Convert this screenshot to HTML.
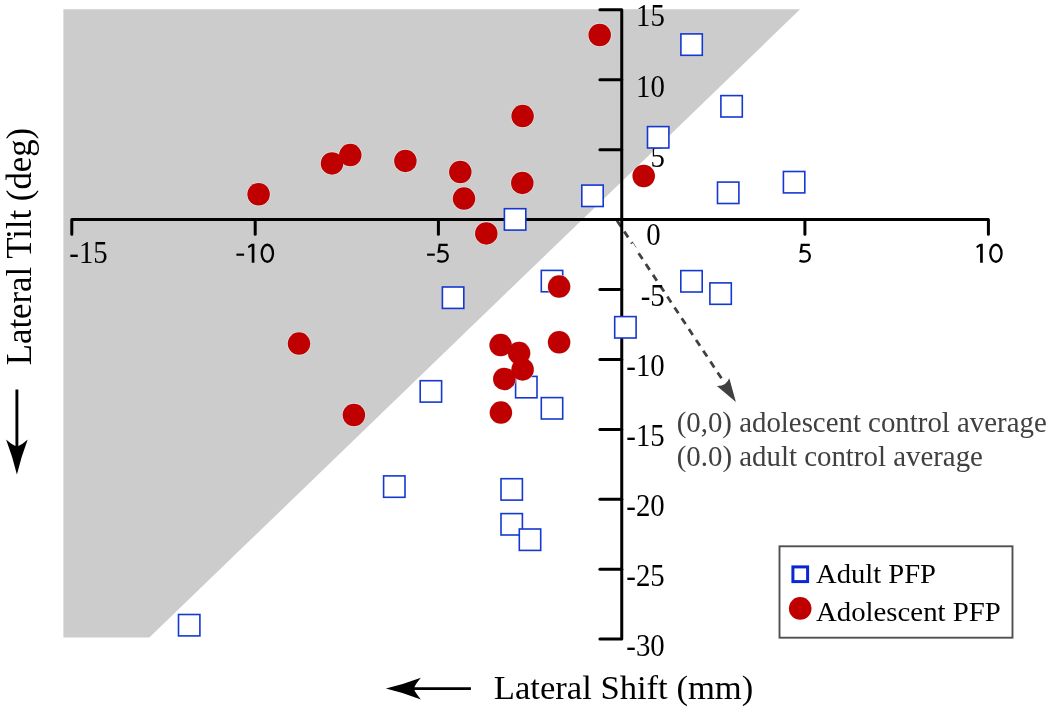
<!DOCTYPE html>
<html><head><meta charset="utf-8"><title>Lateral Tilt vs Lateral Shift</title>
<style>
html,body{margin:0;padding:0;background:#fff;}
body{width:1050px;height:711px;overflow:hidden;font-family:"Liberation Serif",serif;}
svg{display:block;will-change:transform;}
.ser{font-family:"Liberation Serif",serif;}
.san{font-family:"Liberation Sans",sans-serif;}
</style></head><body>
<svg width="1050" height="711" viewBox="0 0 1050 711">
<rect width="1050" height="711" fill="#ffffff"/>
<polygon points="63.4,9.3 800.1,9.3 149.3,637.6 63.4,637.6" fill="#cccccc"/>

<path d="M617.1,220.7 L721.7,378.6" stroke="#404040" stroke-width="2.8" stroke-dasharray="7 6" fill="none"/>
<path d="M631.6,243.9 L635.6,249.9" stroke="#ffffff" stroke-width="3.2" fill="none"/>
<g stroke="#000" stroke-width="3.0" fill="none" stroke-linecap="round" stroke-linejoin="round">
<path d="M71.8,234.2 V219.5 H988.4 V234.2"/>
<path d="M255.2,219.5 V234.2"/>
<path d="M438.4,219.5 V234.2"/>
<path d="M804.9,219.5 V234.2"/>
<path d="M599.9,9.8 H621.75 V639.1 H599.9"/>
<path d="M599.9,79.73 H621.75"/>
<path d="M599.9,149.66 H621.75"/>
<path d="M599.9,289.5 H621.75"/>
<path d="M599.9,359.5 H621.75"/>
<path d="M599.9,429.4 H621.75"/>
<path d="M599.9,499.3 H621.75"/>
<path d="M599.9,569.2 H621.75"/>
</g>
<g fill="#000">
<text class="ser" transform="translate(69.3,262.6) scale(1.03,1.095)" font-size="28px">-15</text>
<text class="ser" transform="translate(646.3,245.0) scale(1.03,1.095)" font-size="28px">0</text>
<text class="ser" transform="translate(664.8,25.9) scale(1.03,1.095)" font-size="28px" text-anchor="end">15</text>
<text class="ser" transform="translate(664.8,96.6) scale(1.03,1.095)" font-size="28px" text-anchor="end">10</text>
<text class="ser" transform="translate(664.8,166.6) scale(1.03,1.095)" font-size="28px" text-anchor="end">5</text>
<text class="ser" transform="translate(664.8,305.9) scale(1.03,1.095)" font-size="28px" text-anchor="end">-5</text>
<text class="ser" transform="translate(664.8,375.7) scale(1.03,1.095)" font-size="28px" text-anchor="end">-10</text>
<text class="ser" transform="translate(664.8,445.6) scale(1.03,1.095)" font-size="28px" text-anchor="end">-15</text>
<text class="ser" transform="translate(664.8,515.6) scale(1.03,1.095)" font-size="28px" text-anchor="end">-20</text>
<text class="ser" transform="translate(664.8,586.3) scale(1.03,1.095)" font-size="28px" text-anchor="end">-25</text>
<text class="ser" transform="translate(664.8,655.6) scale(1.03,1.095)" font-size="28px" text-anchor="end">-30</text>
</g>
<g transform="translate(236.4,243.7)"><g transform="translate(0,0)"><rect x="0" y="9.9" width="7.7" height="2.15" fill="#000"/></g><g transform="translate(11.3,0)"><path d="M3.9,0 H6.7 V19.1 H4.0 V2.6 L0.9,4.5 L0.2,2.5 Z" fill="#000"/></g><g transform="translate(24.2,0)"><ellipse cx="6.75" cy="9.55" rx="5.6" ry="8.5" fill="none" stroke="#000" stroke-width="2.3"/></g></g>
<g transform="translate(427.1,243.7)"><g transform="translate(0,0)"><rect x="0" y="9.9" width="7.7" height="2.15" fill="#000"/></g><g transform="translate(9.6,0)"><path d="M11.0,1.15 H3.0 L2.1,8.0 C3.3,7.6 4.4,7.45 5.5,7.45 C8.9,7.45 11.0,9.6 11.0,12.6 C11.0,15.9 8.6,17.95 5.3,17.95 C3.4,17.95 1.8,17.5 0.7,16.8" fill="none" stroke="#000" stroke-width="2.3" stroke-linejoin="miter"/></g></g>
<g transform="translate(798.8,243.7)"><g transform="translate(0,0)"><path d="M11.0,1.15 H3.0 L2.1,8.0 C3.3,7.6 4.4,7.45 5.5,7.45 C8.9,7.45 11.0,9.6 11.0,12.6 C11.0,15.9 8.6,17.95 5.3,17.95 C3.4,17.95 1.8,17.5 0.7,16.8" fill="none" stroke="#000" stroke-width="2.3" stroke-linejoin="miter"/></g></g>
<g transform="translate(976.1,243.7)"><g transform="translate(0,0)"><path d="M3.9,0 H6.7 V19.1 H4.0 V2.6 L0.9,4.5 L0.2,2.5 Z" fill="#000"/></g><g transform="translate(13.1,0)"><ellipse cx="6.75" cy="9.55" rx="5.6" ry="8.5" fill="none" stroke="#000" stroke-width="2.3"/></g></g>
<g fill="#ffffff" stroke="#1438d2" stroke-width="1.6">
<rect x="680.9" y="33.9" width="21.4" height="21.4"/>
<rect x="720.9" y="95.6" width="21.4" height="21.4"/>
<rect x="647.5" y="126.6" width="21.4" height="21.4"/>
<rect x="581.8" y="185.1" width="21.4" height="21.4"/>
<rect x="717.5" y="182.1" width="21.4" height="21.4"/>
<rect x="783.4" y="171.5" width="21.4" height="21.4"/>
<rect x="504.4" y="208.7" width="21.4" height="21.4"/>
<rect x="442.4" y="287.0" width="21.4" height="21.4"/>
<rect x="541.3" y="270.4" width="21.4" height="21.4"/>
<rect x="680.8" y="270.6" width="21.4" height="21.4"/>
<rect x="709.9" y="282.9" width="21.4" height="21.4"/>
<rect x="614.7" y="316.6" width="21.4" height="21.4"/>
<rect x="420.2" y="380.7" width="21.4" height="21.4"/>
<rect x="515.6" y="376.4" width="21.4" height="21.4"/>
<rect x="541.3" y="397.6" width="21.4" height="21.4"/>
<rect x="383.6" y="475.9" width="21.4" height="21.4"/>
<rect x="501.0" y="478.7" width="21.4" height="21.4"/>
<rect x="501.0" y="513.6" width="21.4" height="21.4"/>
<rect x="519.3" y="529.0" width="21.4" height="21.4"/>
<rect x="178.5" y="614.5" width="21.4" height="21.4"/>
</g>
<g fill="none" stroke="rgba(228,246,246,0.65)" stroke-width="1.3">
<circle cx="599.7" cy="35.0" r="11.25"/>
<circle cx="522.6" cy="116.1" r="11.25"/>
<circle cx="350.3" cy="155.1" r="11.25"/>
<circle cx="332.0" cy="163.4" r="11.25"/>
<circle cx="405.4" cy="160.9" r="11.25"/>
<circle cx="460.3" cy="172.0" r="11.25"/>
<circle cx="522.3" cy="182.9" r="11.25"/>
<circle cx="258.6" cy="194.3" r="11.25"/>
<circle cx="464.0" cy="198.6" r="11.25"/>
<circle cx="643.7" cy="176.0" r="11.25"/>
<circle cx="486.3" cy="233.4" r="11.25"/>
<circle cx="559.1" cy="286.6" r="11.25"/>
<circle cx="299.0" cy="343.6" r="11.25"/>
<circle cx="500.6" cy="345.1" r="11.25"/>
<circle cx="519.1" cy="353.1" r="11.25"/>
<circle cx="559.1" cy="342.3" r="11.25"/>
<circle cx="522.6" cy="369.4" r="11.25"/>
<circle cx="504.3" cy="378.9" r="11.25"/>
<circle cx="500.9" cy="412.6" r="11.25"/>
<circle cx="353.9" cy="415.0" r="11.25"/>
</g>
<g fill="#c00000">
<circle cx="599.7" cy="35.0" r="11.25"/>
<circle cx="522.6" cy="116.1" r="11.25"/>
<circle cx="350.3" cy="155.1" r="11.25"/>
<circle cx="332.0" cy="163.4" r="11.25"/>
<circle cx="405.4" cy="160.9" r="11.25"/>
<circle cx="460.3" cy="172.0" r="11.25"/>
<circle cx="522.3" cy="182.9" r="11.25"/>
<circle cx="258.6" cy="194.3" r="11.25"/>
<circle cx="464.0" cy="198.6" r="11.25"/>
<circle cx="643.7" cy="176.0" r="11.25"/>
<circle cx="486.3" cy="233.4" r="11.25"/>
<circle cx="559.1" cy="286.6" r="11.25"/>
<circle cx="299.0" cy="343.6" r="11.25"/>
<circle cx="500.6" cy="345.1" r="11.25"/>
<circle cx="519.1" cy="353.1" r="11.25"/>
<circle cx="559.1" cy="342.3" r="11.25"/>
<circle cx="522.6" cy="369.4" r="11.25"/>
<circle cx="504.3" cy="378.9" r="11.25"/>
<circle cx="500.9" cy="412.6" r="11.25"/>
<circle cx="353.9" cy="415.0" r="11.25"/>
</g>
<path d="M735.9,401.9 L716.9,385.9 Q722,386 725,383.9 Q728,381.5 729.3,378.2 Z" fill="#404040"/>
<g fill="#404040" class="ser" font-size="29.4px">
<text x="676.7" y="431.8" textLength="370" lengthAdjust="spacingAndGlyphs">(0,0) adolescent control average</text>
<text x="676.7" y="465.6" textLength="306.2" lengthAdjust="spacingAndGlyphs">(0.0) adult control average</text>
</g>
<rect x="779.5" y="546.3" width="233.0" height="91.4" fill="#ffffff" stroke="#505050" stroke-width="1.9"/>
<rect x="792.9" y="566.9" width="14.7" height="14.7" fill="#fff" stroke="#0a28d2" stroke-width="3"/>
<circle cx="800.2" cy="608.4" r="11.3" fill="#c00000"/>
<g fill="#000" class="ser" font-size="28.2px">
<text x="816" y="582.9" textLength="120" lengthAdjust="spacingAndGlyphs">Adult PFP</text>
<text x="816" y="621.0" textLength="184.8" lengthAdjust="spacingAndGlyphs">Adolescent PFP</text>
</g>
<text class="ser" x="493.8" y="698.8" font-size="34.4px" textLength="259.5" lengthAdjust="spacingAndGlyphs">Lateral Shift (mm)</text>
<text class="ser" transform="translate(30.9,365.2) rotate(-90)" font-size="35.2px" textLength="237.3" lengthAdjust="spacingAndGlyphs">Lateral Tilt (deg)</text>
<path d="M0,0 Q17,-4 35,-10.8 Q30,-5 28.5,-1.45 H85 V1.45 H28.5 Q30,5 35,10.8 Q17,4 0,0 Z" transform="translate(385.9,688.6)" fill="#000"/>
<path d="M0,0 Q17,-4 35,-10.8 Q30,-5 28.5,-1.45 H85 V1.45 H28.5 Q30,5 35,10.8 Q17,4 0,0 Z" transform="translate(16.9,474.4) rotate(-90)" fill="#000"/>
</svg></body></html>
